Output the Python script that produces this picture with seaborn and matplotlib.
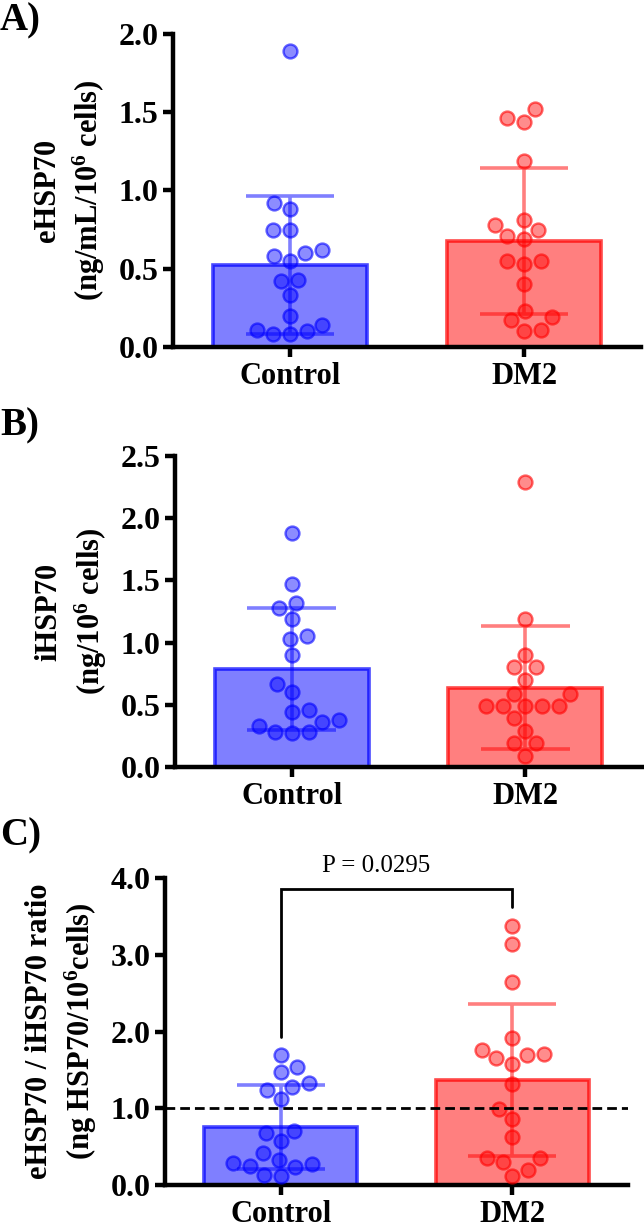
import numpy as np
import pandas as pd
import matplotlib
matplotlib.use('Agg')
import matplotlib.pyplot as plt
import seaborn as sns

groups = ['Control', 'DM2']

# eHSP70 (ng/mL/10^6 cells)
ehsp_control = [1.89, 0.92, 0.88, 0.75, 0.75, 0.60, 0.62, 0.58, 0.55, 0.42, 0.43,
                0.33, 0.20, 0.14, 0.11, 0.10, 0.08, 0.08]
ehsp_dm2 = [1.52, 1.44, 1.46, 1.19, 0.75, 0.78, 0.81, 0.71, 0.69, 0.55, 0.53,
            0.55, 0.40, 0.23, 0.19, 0.17, 0.11, 0.10]

# iHSP70 (ng/10^6 cells)
ihsp_control = [1.88, 1.47, 1.32, 1.28, 1.19, 1.05, 1.03, 0.90, 0.67, 0.60, 0.46,
                0.44, 0.38, 0.36, 0.33, 0.28, 0.27, 0.28]
ihsp_dm2 = [2.29, 1.19, 0.90, 0.80, 0.80, 0.70, 0.59, 0.59, 0.49, 0.49, 0.49,
            0.49, 0.49, 0.39, 0.29, 0.19, 0.19, 0.09]

# eHSP70 / iHSP70 ratio
ratio_control = [1.69, 1.54, 1.47, 1.33, 1.28, 1.24, 1.12, 0.68, 0.70, 0.57, 0.42,
                 0.33, 0.29, 0.28, 0.25, 0.23, 0.13, 0.12]
ratio_dm2 = [3.38, 3.14, 2.64, 1.91, 1.76, 1.71, 1.69, 1.65, 1.58, 1.31, 0.99,
             0.86, 0.62, 0.35, 0.35, 0.30, 0.20, 0.12]

p_value_text = 'P = 0.0295'

blue = (0.0, 0.0, 1.0)
red = (1.0, 0.0, 0.0)
palette = {'Control': blue, 'DM2': red}

sns.set_style('ticks')
plt.rcParams['font.family'] = ['Liberation Serif', 'DejaVu Serif']
plt.rcParams['font.weight'] = 'bold'
plt.rcParams['text.color'] = 'black'
plt.rcParams['axes.labelcolor'] = 'black'
plt.rcParams['xtick.color'] = 'black'
plt.rcParams['ytick.color'] = 'black'
plt.rcParams['mathtext.fontset'] = 'custom'
plt.rcParams['mathtext.rm'] = 'Liberation Serif:bold'
plt.rcParams['mathtext.bf'] = 'Liberation Serif:bold'
plt.rcParams['mathtext.default'] = 'bf'


def make_frame(control, dm2):
    return pd.DataFrame({'group': ['Control'] * len(control) + ['DM2'] * len(dm2),
                         'value': list(control) + list(dm2)})


def pick(x, alpha):
    base = blue if x < 0.5 else red
    return (*base, alpha)


def draw_panel(ax, df, ymax, yticks, ylabel, labelpad):
    sns.barplot(data=df, x='group', y='value', hue='group', order=groups,
                hue_order=groups, palette=palette, errorbar='sd', capsize=0.38,
                width=0.66, linewidth=2.6, err_kws={'linewidth': 2.6},
                legend=False, ax=ax)
    for patch in ax.patches:
        xc = patch.get_x() + patch.get_width() / 2
        patch.set_facecolor(pick(xc, 0.5))
        patch.set_edgecolor(pick(xc, 0.72))
    for line in ax.lines:
        xc = np.nanmean(line.get_xdata())
        line.set_color(pick(xc, 0.5))
        line.set_solid_capstyle('butt')

    sns.swarmplot(data=df, x='group', y='value', hue='group', order=groups,
                  hue_order=groups, palette=palette, size=10, linewidth=1.7,
                  legend=False, ax=ax)
    for coll in ax.collections:
        offs = coll.get_offsets()
        if len(offs) == 0:
            continue
        xc = np.mean(offs[:, 0])
        coll.set_facecolor(pick(xc, 0.45))
        coll.set_edgecolor(pick(xc, 0.6))
        coll.set_clip_on(False)

    ax.set_xlim(-0.5, 1.5)
    ax.set_ylim(0, ymax)
    ax.set_yticks(yticks)
    ax.set_yticklabels([f'{t:.1f}' for t in yticks], fontsize=23, fontweight='bold')
    ax.set_xticks([0, 1])
    ax.set_xticklabels(groups, fontsize=22, fontweight='bold')
    ax.set_xlabel('')
    ax.set_ylabel(ylabel, fontsize=22, fontweight='bold', linespacing=1.35,
                  labelpad=labelpad)
    sns.despine(ax=ax)
    for side in ['left', 'bottom']:
        ax.spines[side].set_linewidth(3.2)
        ax.spines[side].set_color('black')
    ax.tick_params(axis='both', length=7.5, width=3.2, color='black', pad=3)


fig = plt.figure(figsize=(6.44, 12.27), dpi=100)

ax_a = fig.add_axes([0.2686, 0.7172, 0.7267, 0.2551])
draw_panel(ax_a, make_frame(ehsp_control, ehsp_dm2), 2.0,
           [0.0, 0.5, 1.0, 1.5, 2.0], 'eHSP70\n(ng/mL/10$^{6}$ cells)', 8)

ax_b = fig.add_axes([0.2717, 0.3749, 0.725, 0.2535])
draw_panel(ax_b, make_frame(ihsp_control, ihsp_dm2), 2.5,
           [0.0, 0.5, 1.0, 1.5, 2.0, 2.5], 'iHSP70\n(ng/10$^{6}$ cells)', 8)

ax_c = fig.add_axes([0.2562, 0.0342, 0.719, 0.2502])
draw_panel(ax_c, make_frame(ratio_control, ratio_dm2), 4.0,
           [0.0, 1.0, 2.0, 3.0, 4.0], 'eHSP70 / iHSP70 ratio\n(ng HSP70/10$^{6}$cells)', 8)
ax_c.axhline(1.0, color='black', linewidth=2, linestyle=(0, (3.5, 1.8)), zorder=5)

# significance bracket, heights taken from the group maxima
gap = 0.24
left_y = max(ratio_control) + gap
right_y = max(ratio_dm2) + gap
top_y = right_y + gap
ax_c.plot([0, 0, 1, 1], [left_y, top_y, top_y, right_y], color='black',
          linewidth=2, solid_joinstyle='miter', clip_on=False)
ax_c.text(0.41, top_y + 0.3, p_value_text, ha='center', va='center', fontsize=18,
          fontweight='normal', clip_on=False)

for label, y in [('A)', 0.998), ('B)', 0.668), ('C)', 0.334)]:
    fig.text(0.0, y, label, fontsize=28, fontweight='bold', va='top', ha='left')

fig.savefig('out.png', dpi=100)
